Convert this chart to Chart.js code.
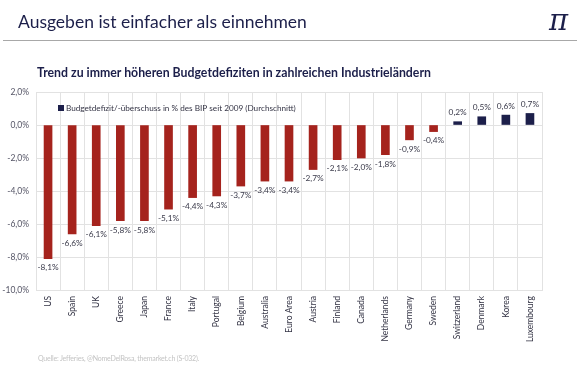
<!DOCTYPE html>
<html>
<head>
<meta charset="utf-8">
<script src="https://cdn.jsdelivr.net/npm/chart.js@4"></script>
<style>
  html, body { margin: 0; padding: 0; background: #fff; }
  #wrap { position: relative; width: 580px; height: 370px; overflow: hidden; font-family: Lato, "Open Sans", sans-serif; }
  #wrap canvas { position: absolute; left: 0; top: 0; }
  .title { position: absolute; left: 18px; top: 11px; font-size: 17.5px; color: #1c1f4a; }
  .rule { position: absolute; left: 3px; right: 3px; top: 40px; height: 1px; background: #a8a8a8; }
  .logo { position: absolute; left: 549px; top: 3px; font-family: "DejaVu Serif", serif; font-style: italic; font-size: 29px; color: #1c1f4a; }
  .subtitle { position: absolute; left: 37px; top: 65px; font-size: 12.3px; font-weight: bold; color: #1c1f4a; }
  .source { position: absolute; left: 38px; top: 354px; font-size: 7px; letter-spacing: -0.2px; color: #c4c4c4; }
</style>
</head>
<body>
<div id="wrap">
  <canvas id="chart" width="580" height="370"></canvas>
  <div class="title">Ausgeben ist einfacher als einnehmen</div>
  <div class="rule"></div>
  <div class="logo">π</div>
  <div class="subtitle">Trend zu immer höheren Budgetdefiziten in zahlreichen Industrieländern</div>
  <div class="source">Quelle: Jefferies, @NomeDelRosa, themarket.ch (S-032).</div>
</div>
<script>
const countries = ['US', 'Spain', 'UK', 'Greece', 'Japan', 'France', 'Italy', 'Portugal', 'Belgium', 'Australia',
    'Euro Area', 'Austria', 'Finland', 'Canada', 'Netherlands', 'Germany', 'Sweden', 'Switzerland', 'Denmark', 'Korea', 'Luxembourg'];
const balance = [-8.1, -6.6, -6.1, -5.8, -5.8, -5.1, -4.4, -4.3, -3.7, -3.4,
    -3.4, -2.7, -2.1, -2.0, -1.8, -0.9, -0.4, 0.2, 0.5, 0.6, 0.7];
const yTicks = [2, 0, -2, -4, -6, -8, -10];
const seriesLabel = 'Budgetdefizit/-überschuss in % des BIP seit 2009 (Durchschnitt)';

const red = '#a5231d';
const navy = '#1c1f4a';

function pct(v){
    return v.toFixed(1).replace('.', ',') + '%';
}

// value labels above / below each bar
const barLabels = {
    id: 'barLabels',
    afterDatasetsDraw(chart){
        const ctx = chart.ctx;
        const meta = chart.getDatasetMeta(0);
        ctx.save();
        ctx.font = '8.3px Lato, sans-serif';
        ctx.fillStyle = '#3a3a4a';
        ctx.textAlign = 'center';
        meta.data.forEach((bar, i) => {
            const v = balance[i];
            if(v < 0){
                ctx.textBaseline = 'top';
                ctx.fillText(pct(v), bar.x, bar.y + 5);
            } else {
                ctx.textBaseline = 'bottom';
                ctx.fillText(pct(v), bar.x, bar.y - 5);
            }
        });
        ctx.restore();
    }
};

// legend sits inside the plot area
const innerLegend = {
    id: 'innerLegend',
    afterDraw(chart){
        const ctx = chart.ctx;
        ctx.save();
        ctx.fillStyle = navy;
        ctx.fillRect(58, 105, 6, 6);
        ctx.font = '8.2px Lato, sans-serif';
        ctx.fillStyle = '#333344';
        ctx.textBaseline = 'middle';
        ctx.fillText(seriesLabel, 66, 108);
        ctx.restore();
    }
};

new Chart(document.getElementById('chart'), {
    type: 'bar',
    data: {
        labels: countries,
        datasets: [{
            label: seriesLabel,
            data: balance,
            backgroundColor: balance.map(v => v < 0 ? red : navy),
            barThickness: 8
        }]
    },
    options: {
        responsive: false,
        animation: false,
        layout: { padding: { left: 0, top: 92, right: 38, bottom: 0 } },
        plugins: {
            legend: { display: false },
            tooltip: { enabled: false }
        },
        scales: {
            x: {
                grid: { color: '#e2e2e2', drawTicks: false, offset: true },
                border: { color: '#e2e2e2' },
                ticks: {
                    minRotation: 90, maxRotation: 90, padding: 6,
                    color: '#333344',
                    font: { family: 'Lato', size: 8.5 }
                },
                afterFit(scale){ scale.height = 80; }
            },
            y: {
                min: -10, max: 2,
                grid: { color: '#e2e2e2', drawTicks: false },
                border: { color: '#e2e2e2' },
                afterBuildTicks(scale){ scale.ticks = yTicks.map(v => ({ value: v })); },
                ticks: {
                    padding: 7,
                    color: '#555566',
                    font: { family: 'Lato', size: 8.5 },
                    callback: v => pct(v)
                },
                afterFit(scale){ scale.width = 36; }
            }
        }
    },
    plugins: [barLabels, innerLegend]
});
</script>
</body>
</html>
